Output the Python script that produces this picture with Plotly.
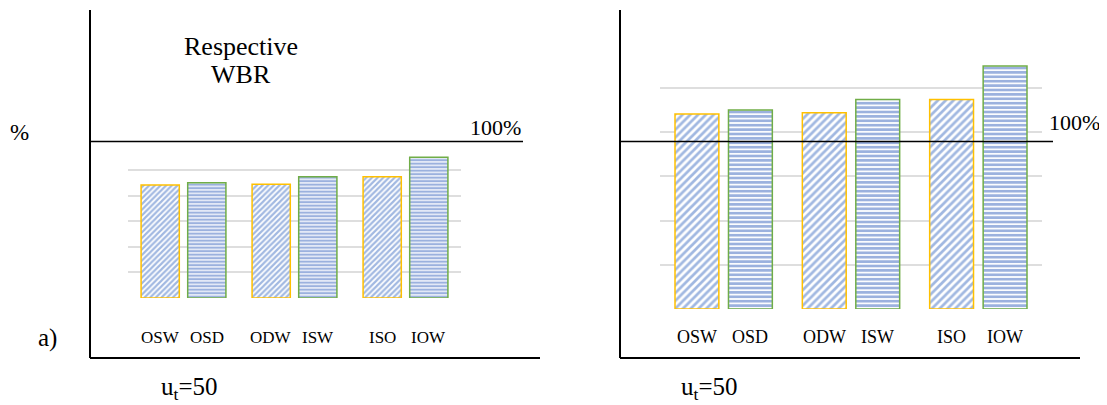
import plotly.graph_objects as go

# ---- data ----
groups = ["11", "13", "15"]
series_a_labels = ["OSW", "ODW", "ISO"]
series_b_labels = ["OSD", "ISW", "IOW"]
series_a = [4.41, 4.44, 4.74]
series_b = [4.50, 4.74, 5.50]
grid_ticks = [0, 1, 2, 3, 4, 5]

# page has an 8px body margin; the figure fills the rest of the window
OFF = 8
W, H = 1107 - OFF, 405 - OFF
FONT = "Liberation Serif, Times New Roman, serif"
BLUE_A = "#4472C4"
BLUE_B = "#3864BE"
GOLD = "#FFC000"
GREEN = "#70AD47"


def px(x):
    return (x - OFF) / W


def py(y):
    return 1 - (y - OFF) / H


BARGAP = 0.16
BARGROUPGAP = 0.18

panels = [
    dict(xa="x", ya="y", xdom=(128, 461), ydom=(298, 144.4),
         pat_a=(4, 0.55), pat_b=(3.5, 0.65), label_font=17, label_y=337),
    dict(xa="x2", ya="y2", xdom=(660, 1042), ydom=(309, 43.8),
         pat_a=(5.5, 0.5), pat_b=(4.4, 0.62), label_font=18, label_y=337),
]

fig = go.Figure()
annotations = []
for p in panels:
    fig.add_trace(go.Bar(
        x=groups, y=series_a, xaxis=p["xa"], yaxis=p["ya"], showlegend=False,
        marker=dict(color="white", line=dict(color=GOLD, width=1.5),
                    pattern=dict(shape="/", fgcolor=BLUE_A, bgcolor="white",
                                 size=p["pat_a"][0], solidity=p["pat_a"][1])),
    ))
    fig.add_trace(go.Bar(
        x=groups, y=series_b, xaxis=p["xa"], yaxis=p["ya"], showlegend=False,
        marker=dict(color="white", line=dict(color=GREEN, width=1.5),
                    pattern=dict(shape="-", fgcolor=BLUE_B, bgcolor="white",
                                 size=p["pat_b"][0], solidity=p["pat_b"][1])),
    ))
    width_px = p["xdom"][1] - p["xdom"][0]
    slot = width_px / len(groups) * (1 - BARGAP) / 2
    for i, (la, lb) in enumerate(zip(series_a_labels, series_b_labels)):
        for lab, sh in ((la, -slot / 2), (lb, slot / 2)):
            annotations.append(dict(
                x=i, xref=p["xa"], xshift=sh, y=py(p["label_y"]), yref="paper",
                text=lab, showarrow=False, xanchor="center", yanchor="middle",
                font=dict(family=FONT, size=p["label_font"], color="black")))

axis_common = dict(showticklabels=False, ticks="", showline=False, zeroline=False)
xrange = [-0.5, len(groups) - 0.5]
fig.update_layout(
    width=W, height=H, margin=dict(l=0, r=0, t=0, b=0),
    paper_bgcolor="white", plot_bgcolor="white",
    barmode="group", bargap=BARGAP, bargroupgap=BARGROUPGAP,
    xaxis=dict(domain=[px(128), px(461)], type="category", range=xrange,
               showgrid=False, anchor="y", **axis_common),
    yaxis=dict(domain=[py(298), py(144.4)], range=[0, 6], tickvals=grid_ticks,
               showgrid=True, gridcolor="#dedede", gridwidth=1.5, anchor="x", **axis_common),
    xaxis2=dict(domain=[px(660), px(1042)], type="category", range=xrange,
                showgrid=False, anchor="y2", **axis_common),
    yaxis2=dict(domain=[py(309), py(43.8)], range=[0, 6], tickvals=grid_ticks,
                showgrid=True, gridcolor="#dedede", gridwidth=1.5, anchor="x2", **axis_common),
    showlegend=False,
)

shapes = []
# L-shaped frame axes
for (x0, x1) in ((90, 540), (620, 1080)):
    shapes.append(dict(type="line", xref="paper", yref="paper", x0=px(x0), x1=px(x0),
                       y0=py(10), y1=py(358), line=dict(color="black", width=2)))
    shapes.append(dict(type="line", xref="paper", yref="paper", x0=px(x0), x1=px(x1),
                       y0=py(358), y1=py(358), line=dict(color="black", width=2)))
# 100% reference lines
shapes.append(dict(type="line", xref="paper", yref="paper", x0=px(90), x1=px(523),
                   y0=py(141.5), y1=py(141.5), line=dict(color="black", width=1.5)))
shapes.append(dict(type="line", xref="paper", yref="paper", x0=px(620), x1=px(1053),
                   y0=py(141.5), y1=py(141.5), line=dict(color="black", width=1.5)))


def txt(x, y, s, size, xanchor="center"):
    annotations.append(dict(x=px(x), y=py(y), xref="paper", yref="paper", text=s,
                            showarrow=False, xanchor=xanchor, yanchor="middle",
                            font=dict(family=FONT, size=size, color="black")))


txt(241, 47, "Respective", 26)
txt(241, 75, "WBR", 26)
txt(523, 127, "100%", 22, "right")
txt(1047, 122, "100%", 22, "left")
txt(189, 388, "u<sub>t</sub>=50", 25)
txt(709, 388, "u<sub>t</sub>=50", 25)
txt(19, 133, "%", 23)
txt(47, 338, "a)", 25)

fig.update_layout(shapes=shapes, annotations=annotations)
fig.write_html("out.html")
